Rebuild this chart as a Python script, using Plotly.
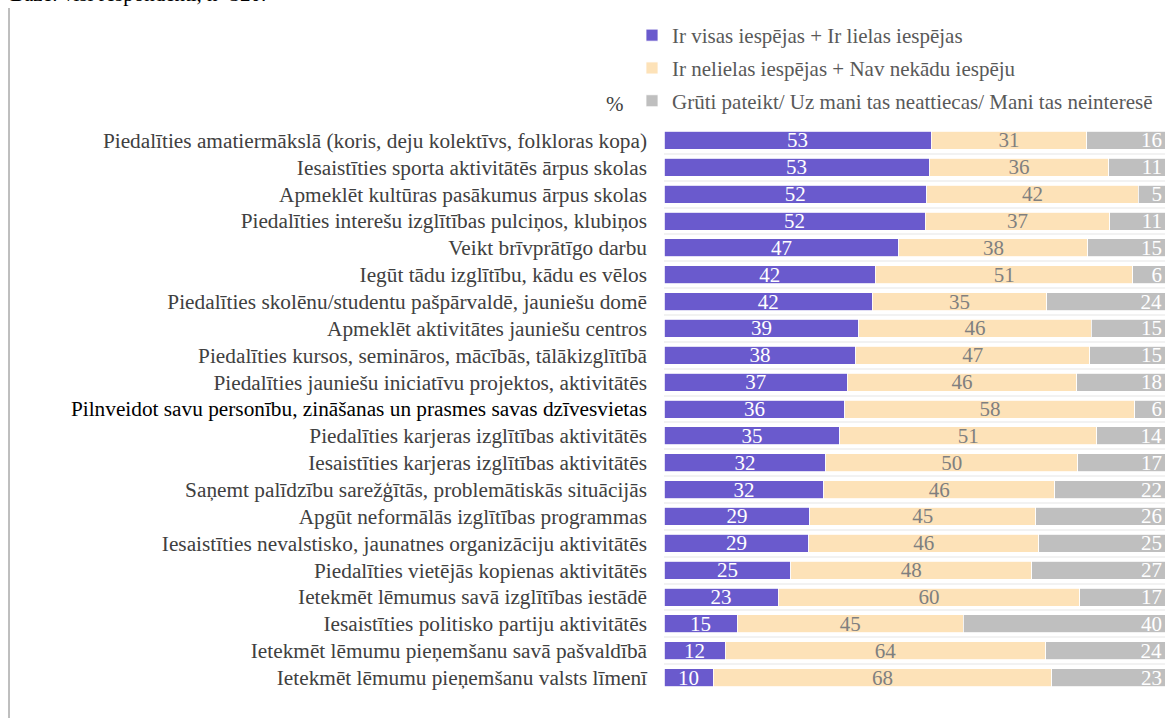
import plotly.graph_objects as go

categories = [
    "Piedalīties amatiermākslā (koris, deju kolektīvs, folkloras kopa)",
    "Iesaistīties sporta aktivitātēs ārpus skolas",
    "Apmeklēt kultūras pasākumus ārpus skolas",
    "Piedalīties interešu izglītības pulciņos, klubiņos",
    "Veikt brīvprātīgo darbu",
    "Iegūt tādu izglītību, kādu es vēlos",
    "Piedalīties skolēnu/studentu pašpārvaldē, jauniešu domē",
    "Apmeklēt aktivitātes jauniešu centros",
    "Piedalīties kursos, semināros, mācībās, tālākizglītībā",
    "Piedalīties jauniešu iniciatīvu projektos, aktivitātēs",
    "Pilnveidot savu personību, zināšanas un prasmes savas dzīvesvietas",
    "Piedalīties karjeras izglītības aktivitātēs",
    "Iesaistīties karjeras izglītības aktivitātēs",
    "Saņemt palīdzību sarežģītās, problemātiskās situācijās",
    "Apgūt neformālās izglītības programmas",
    "Iesaistīties nevalstisko, jaunatnes organizāciju aktivitātēs",
    "Piedalīties vietējās kopienas aktivitātēs",
    "Ietekmēt lēmumus savā izglītības iestādē",
    "Iesaistīties politisko partiju aktivitātēs",
    "Ietekmēt lēmumu pieņemšanu savā pašvaldībā",
    "Ietekmēt lēmumu pieņemšanu valsts līmenī",
]

series_names = [
    "Ir visas iespējas + Ir lielas iespējas",
    "Ir nelielas iespējas + Nav nekādu iespēju",
    "Grūti pateikt/ Uz mani tas neattiecas/ Mani tas neinteresē",
]

high = [53.3, 52.9, 52.4, 52.1, 46.9, 42.2, 41.6, 38.9, 38.3, 36.6, 36.1,
        35.1, 32.3, 31.9, 29.1, 28.9, 25.3, 22.8, 14.6, 12.2, 9.8]
low = [31.1, 35.9, 42.3, 36.9, 37.7, 51.4, 34.8, 46.4, 46.7, 45.8, 57.9,
       51.3, 50.3, 46.1, 45.1, 45.9, 48.1, 60.2, 45.1, 64.0, 67.6]
other = [15.6, 11.2, 5.3, 11.0, 15.4, 6.4, 23.6, 14.7, 15.0, 17.6, 6.0,
         13.6, 17.4, 22.0, 25.8, 25.2, 26.6, 17.0, 40.3, 23.8, 22.6]

highlight_label = "Pilnveidot savu personību, zināšanas un prasmes savas dzīvesvietas"

FONT = "Liberation Serif, Times New Roman, serif"
FS = 21
colors = ["#6A5ACD", "#FDE2B8", "#BFBFBF"]
text_colors = ["white", "#7F7F7F", "white"]
anchors = ["middle", "middle", "end"]

fig = go.Figure()
for i, (name, vals) in enumerate(zip(series_names, [high, low, other])):
    fig.add_trace(go.Bar(
        y=categories, x=vals, name=name, orientation="h",
        marker=dict(color=colors[i], line=dict(color="white", width=0.8)),
        texttemplate="%{x:.0f}", textposition="inside",
        insidetextanchor=anchors[i], textangle=0,
        textfont=dict(family=FONT, size=FS, color=text_colors[i]),
        constraintext="none",
        legendgroup=f"g{i}",
        hoverinfo="skip",
    ))

ticktext = [
    f"<span style='color:#000000'>{c}</span>" if c == highlight_label else c
    for c in categories
]

fig.update_layout(
    barmode="stack",
    width=1165, height=718,
    margin=dict(l=664, r=0, t=127, b=27),
    paper_bgcolor="white", plot_bgcolor="white",
    font=dict(family=FONT, size=FS, color="#404040"),
    bargap=0.33,
    showlegend=True,
    legend=dict(
        x=(632 - 664) / 501, y=(691 - 15) / 564, xanchor="left", yanchor="top",
        orientation="v", traceorder="grouped",
        font=dict(family=FONT, size=FS, color="#595959"),
        tracegroupgap=2.5, itemwidth=30,
        bgcolor="rgba(0,0,0,0)",
    ),
    xaxis=dict(range=[0, 100], visible=False, fixedrange=True),
    yaxis=dict(
        autorange="reversed", type="category",
        tickmode="array", tickvals=categories, ticktext=ticktext,
        tickson="boundaries", ticks="", showgrid=True,
        gridcolor="#F2F2F2", gridwidth=2, showline=False, zeroline=False,
        ticklabelstandoff=16,
        tickfont=dict(family=FONT, size=21.3, color="#404040"),
    ),
    annotations=[
        dict(text="%", xref="paper", yref="paper", x=(615 - 664) / 501,
             y=(691 - 104) / 564, xanchor="center", yanchor="middle",
             showarrow=False, font=dict(family=FONT, size=FS, color="#404040")),
        dict(text="Bāze: visi respondenti, n=320.", xref="paper", yref="paper",
             x=(8 - 664) / 501, y=(691 - 8) / 564, xanchor="left",
             yanchor="bottom", showarrow=False,
             font=dict(family=FONT, size=FS, color="#000000")),
    ],
    shapes=[
        dict(type="line", xref="paper", yref="paper",
             x0=(9 - 664) / 501, x1=(9 - 664) / 501,
             y0=(691 - 730) / 564, y1=(691 - 8) / 564,
             line=dict(color="#7F7F7F", width=1)),
    ],
)

fig.write_html("out.html", config={"displayModeBar": False},
               post_script="document.body.style.margin='0';")
